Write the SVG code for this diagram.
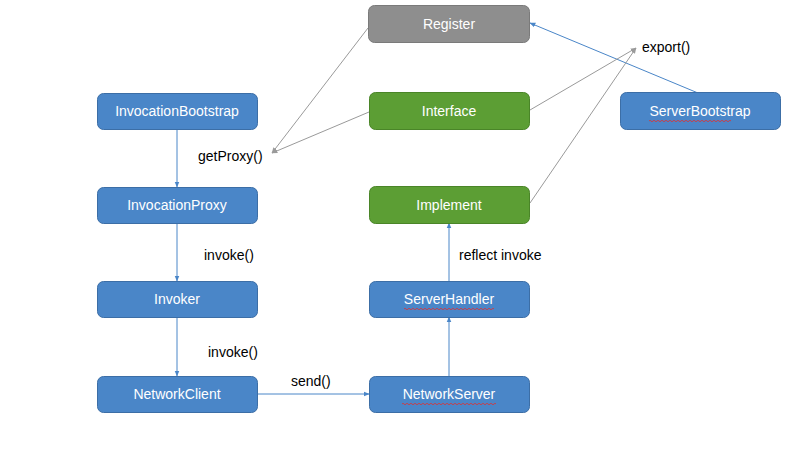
<svg xmlns="http://www.w3.org/2000/svg" width="806" height="455" viewBox="0 0 806 455">
<style>
.box{stroke-width:1}
.blue{fill:#4a86c8;stroke:#3c6ea6}
.green{fill:#5c9e34;stroke:#4a8528}
.gray{fill:#8e8e8e;stroke:#7a7a7a}
.t{font-family:"Liberation Sans",Arial,sans-serif;font-size:14px;fill:#fff;text-anchor:middle;dominant-baseline:central}
.l{font-family:"Liberation Sans",Arial,sans-serif;font-size:14px;fill:#000;dominant-baseline:central}
.bc{stroke:#4a86c8;stroke-width:1;fill:none;marker-end:url(#ab)}
.gc{stroke:#9a9a9a;stroke-width:1;fill:none;marker-end:url(#ag)}
.sq{stroke:#e03030;stroke-width:0.8;fill:none}
</style>
<defs>
<marker id="ab" viewBox="0 0 10 10" refX="9" refY="5" markerWidth="6" markerHeight="6" orient="auto"><path d="M0,1 L10,5 L0,9 z" fill="#4a86c8"/></marker>
<marker id="ag" viewBox="0 0 10 10" refX="9" refY="5" markerWidth="6" markerHeight="6" orient="auto"><path d="M0,1 L10,5 L0,9 z" fill="#9a9a9a"/></marker>
</defs>
<rect width="806" height="455" fill="#fff"/>
<g id="connectors">
<line class="bc" x1="177" y1="129" x2="177" y2="187"/>
<line class="bc" x1="177" y1="223" x2="177" y2="281"/>
<line class="bc" x1="177" y1="317" x2="177" y2="376"/>
<line class="bc" x1="257" y1="394" x2="369" y2="394"/>
<line class="bc" x1="449" y1="376" x2="449" y2="317"/>
<line class="bc" x1="449" y1="281" x2="449" y2="223"/>
<line class="bc" x1="698" y1="93" x2="530" y2="23"/>
<line class="gc" x1="368" y1="28" x2="272" y2="153"/>
<line class="gc" x1="369" y1="112" x2="272" y2="153"/>
<line class="gc" x1="530" y1="110" x2="636" y2="48"/>
<line class="gc" x1="530" y1="203" x2="636" y2="48"/>
<text class="l" x="198" y="156">getProxy()</text>
<text class="l" x="642" y="47">export()</text>
<text class="l" x="204" y="255">invoke()</text>
<text class="l" x="208" y="352">invoke()</text>
<text class="l" x="291" y="381">send()</text>
<text class="l" x="459" y="255">reflect invoke</text>
</g>
<g id="Register"><rect class="box gray" x="368.5" y="5.5" width="161" height="37" rx="6"/><text class="t" x="449" y="24">Register</text></g>
<g id="Interface"><rect class="box green" x="369.5" y="92.5" width="160" height="37" rx="6"/><text class="t" x="449" y="111">Interface</text></g>
<g id="Implement"><rect class="box green" x="369.5" y="186.5" width="160" height="37" rx="6"/><text class="t" x="449" y="205">Implement</text></g>
<g id="ServerHandler"><rect class="box blue" x="369.5" y="281.5" width="160" height="36" rx="6"/><text class="t" x="449" y="299">ServerHandler</text><path class="sq" d="M404,309 q1,-1.5 2,0 t2,0 t2,0 t2,0 t2,0 t2,0 t2,0 t2,0 t2,0 t2,0 t2,0 t2,0 t2,0 t2,0 t2,0 t2,0 t2,0 t2,0 t2,0 t2,0 t2,0 t2,0 t2,0 t2,0 t2,0 t2,0 t2,0 t2,0 t2,0 t2,0 t2,0 t2,0 t2,0 t2,0 t2,0 t2,0 t2,0 t2,0 t2,0 t2,0 t2,0 t2,0 t2,0 t2,0 t2,0"/></g>
<g id="NetworkServer"><rect class="box blue" x="369.5" y="376.5" width="160" height="36" rx="6"/><text class="t" x="449" y="394">NetworkServer</text><path class="sq" d="M402,404 q1,-1.5 2,0 t2,0 t2,0 t2,0 t2,0 t2,0 t2,0 t2,0 t2,0 t2,0 t2,0 t2,0 t2,0 t2,0 t2,0 t2,0 t2,0 t2,0 t2,0 t2,0 t2,0 t2,0 t2,0 t2,0 t2,0 t2,0 t2,0 t2,0 t2,0 t2,0 t2,0 t2,0 t2,0 t2,0 t2,0 t2,0 t2,0 t2,0 t2,0 t2,0 t2,0 t2,0 t2,0 t2,0 t2,0 t2,0 t2,0"/></g>
<g id="ServerBootstrap"><rect class="box blue" x="620.5" y="92.5" width="160" height="37" rx="6"/><text class="t" x="700" y="111">ServerBootstrap</text><path class="sq" d="M649,121 q1,-1.5 2,0 t2,0 t2,0 t2,0 t2,0 t2,0 t2,0 t2,0 t2,0 t2,0 t2,0 t2,0 t2,0 t2,0 t2,0 t2,0 t2,0 t2,0 t2,0 t2,0 t2,0 t2,0 t2,0 t2,0 t2,0 t2,0 t2,0 t2,0 t2,0 t2,0 t2,0 t2,0 t2,0 t2,0 t2,0 t2,0 t2,0 t2,0 t2,0 t2,0 t2,0"/></g>
<g id="InvocationBootstrap"><rect class="box blue" x="97.5" y="93.5" width="160" height="36" rx="6"/><text class="t" x="177" y="111">InvocationBootstrap</text></g>
<g id="InvocationProxy"><rect class="box blue" x="97.5" y="187.5" width="160" height="36" rx="6"/><text class="t" x="177" y="205">InvocationProxy</text></g>
<g id="Invoker"><rect class="box blue" x="97.5" y="281.5" width="160" height="36" rx="6"/><text class="t" x="177" y="299">Invoker</text></g>
<g id="NetworkClient"><rect class="box blue" x="97.5" y="376.5" width="160" height="36" rx="6"/><text class="t" x="177" y="394">NetworkClient</text></g>
</svg>
